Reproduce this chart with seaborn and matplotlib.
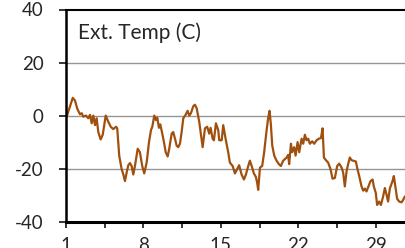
import pandas as pd
import matplotlib
matplotlib.use("Agg")
import matplotlib.pyplot as plt
import seaborn as sns

# day of month (fractional) and external temperature
day = [1.06, 1.61, 1.81, 2.02, 2.26, 2.42, 2.56, 2.81, 3.01, 3.17, 3.32, 3.47, 3.62, 3.77, 3.92,
       4.13, 4.32, 4.59, 4.82, 5.04, 5.27, 5.52, 5.63, 5.81, 6.03, 6.18, 6.33, 6.48, 6.63, 6.78,
       6.93, 7.08, 7.23, 7.48, 7.68, 7.89, 8.07, 8.29, 8.50, 8.68, 8.80, 8.98, 9.13, 9.25, 9.40,
       9.52, 9.70, 9.88, 10.01, 10.19, 10.33, 10.55, 10.69, 10.85, 11.00, 11.14, 11.30, 11.45,
       11.60, 11.81, 11.99, 12.14, 12.29, 12.50, 12.65, 12.81, 13.04, 13.17, 13.35, 13.56, 13.76,
       13.94, 14.07, 14.25, 14.37, 14.55, 14.76, 14.85, 15.07, 15.21, 15.45, 15.66, 15.81, 16.06,
       16.27, 16.47, 16.65, 16.87, 17.08, 17.26, 17.47, 17.62, 17.78, 17.98, 18.16, 18.28, 18.37,
       18.53, 18.73, 18.91, 19.13, 19.27, 19.40, 19.52, 19.64, 19.82, 20.03, 20.24, 20.42, 20.63,
       20.78, 20.94, 21.08, 21.17, 21.33, 21.44, 21.62, 21.75, 21.93, 22.08, 22.29, 22.44, 22.59,
       22.74, 22.89, 23.04, 23.25, 23.43, 23.65, 23.85, 24.04, 24.19, 24.31, 24.49, 24.69, 24.91,
       25.09, 25.30, 25.51, 25.69, 25.91, 26.05, 26.20, 26.36, 26.50, 26.65, 26.81, 26.95, 27.20,
       27.31, 27.50, 27.71, 27.86, 28.01, 28.16, 28.31, 28.52, 28.71, 28.82, 29.00, 29.12, 29.30,
       29.46, 29.66, 29.82, 29.97, 30.11, 30.27, 30.51, 30.63, 30.81, 30.93, 31.11, 31.33, 31.47,
       31.62]
temp = [-0.4, 6.7, 5.7, 2.6, 0.5, 0.9, -0.4, 0.0, -1.0, 0.3, -2.9, 0.0, -3.6, -1.0, -6.2,
        -9.0, -7.2, 0.0, -2.3, -4.2, -5.1, -4.2, -4.8, -15.1, -20.2, -22.2, -24.7, -21.5, -18.7, -17.9,
        -19.0, -22.2, -19.0, -12.5, -13.8, -19.0, -21.8, -17.7, -10.0, -5.5, -4.2, 0.0, -1.7, -0.8, -4.6,
        -3.3, -6.8, -10.6, -13.8, -15.4, -12.5, -6.8, -6.2, -8.7, -11.3, -11.9, -10.6, -6.2,
        -1.0, 0.3, 1.8, 0.0, 0.9, 3.5, 4.1, 2.8, -2.3, -6.2, -11.9, -4.8, -4.2,
        -6.8, -4.6, -8.7, -9.3, -2.9, -5.5, -9.3, -9.3, -3.6, -9.3, -13.8, -17.7, -19.0,
        -21.8, -20.2, -18.7, -22.2, -24.1, -22.2, -19.0, -17.0, -19.0, -21.8, -23.1, -25.4, -28.0,
        -19.6, -19.0, -13.8, -5.5, -1.0, 1.8, -3.6, -11.3, -15.1, -17.0, -18.3, -19.0, -17.0,
        -16.4, -15.8, -14.8, -18.3, -10.6, -13.8, -11.9, -15.1, -10.0, -13.8, -8.7, -10.6, -7.2,
        -9.3, -8.7, -10.6, -9.7, -10.6, -9.3, -8.7, -8.5, -4.8, -15.8, -16.8, -17.7, -20.2,
        -23.8, -23.5, -19.0, -18.1, -19.6, -21.5, -26.7, -20.9, -18.3, -15.8, -16.8, -17.0, -17.3,
        -19.6, -22.8, -26.7, -28.3, -27.5, -28.6, -27.0, -24.7, -24.1, -26.7, -29.2, -33.7, -32.4,
        -33.7, -30.5, -27.3, -29.8, -32.4, -27.5, -24.7, -22.8, -27.9, -31.4, -32.4, -32.7, -31.8,
        -30.5]
xticks = [1, 8, 15, 22, 29]
yticks = [-40, -20, 0, 20, 40]

df = pd.DataFrame({"day": day, "temp": temp})

sns.set_style("white")
plt.rcParams["font.family"] = ["Lato", "DejaVu Sans"]
plt.rcParams["axes.unicode_minus"] = False

fig = plt.figure(figsize=(4.05, 2.48), dpi=100)
ax = fig.add_axes([66 / 405, 26.3 / 248, 343 / 405, 212.2 / 248])

sns.lineplot(data=df, x="day", y="temp", ax=ax, color="#A0500E", linewidth=1.6)

ax.set_xlim(1, 32)
ax.set_ylim(-40, 40)
ax.set_xticks(xticks)
ax.set_xticks([4.5, 11.5, 18.5, 25.5], minor=True)
ax.set_yticks(yticks)
ax.set_xlabel("")
ax.set_ylabel("")

for y in [-20, 0, 20]:
    ax.axhline(y, color="#959595", linewidth=1, zorder=0)

ax.spines["left"].set_linewidth(1.8)
ax.spines["bottom"].set_linewidth(2.2)
ax.spines["top"].set_linewidth(1.5)
ax.spines["right"].set_visible(False)
for s in ["left", "bottom", "top"]:
    ax.spines[s].set_color("black")

ax.tick_params(axis="y", which="major", direction="out", length=5, width=1.3,
               pad=11, labelsize=13.5, left=True)
ax.tick_params(axis="x", which="both", direction="out", length=4, width=1.3,
               pad=7, labelsize=13.5, bottom=True)

ax.text(0.035, 0.893, "Ext. Temp (C)", transform=ax.transAxes, fontsize=15,
        ha="left", va="center")

fig.savefig("out.png", dpi=100)
